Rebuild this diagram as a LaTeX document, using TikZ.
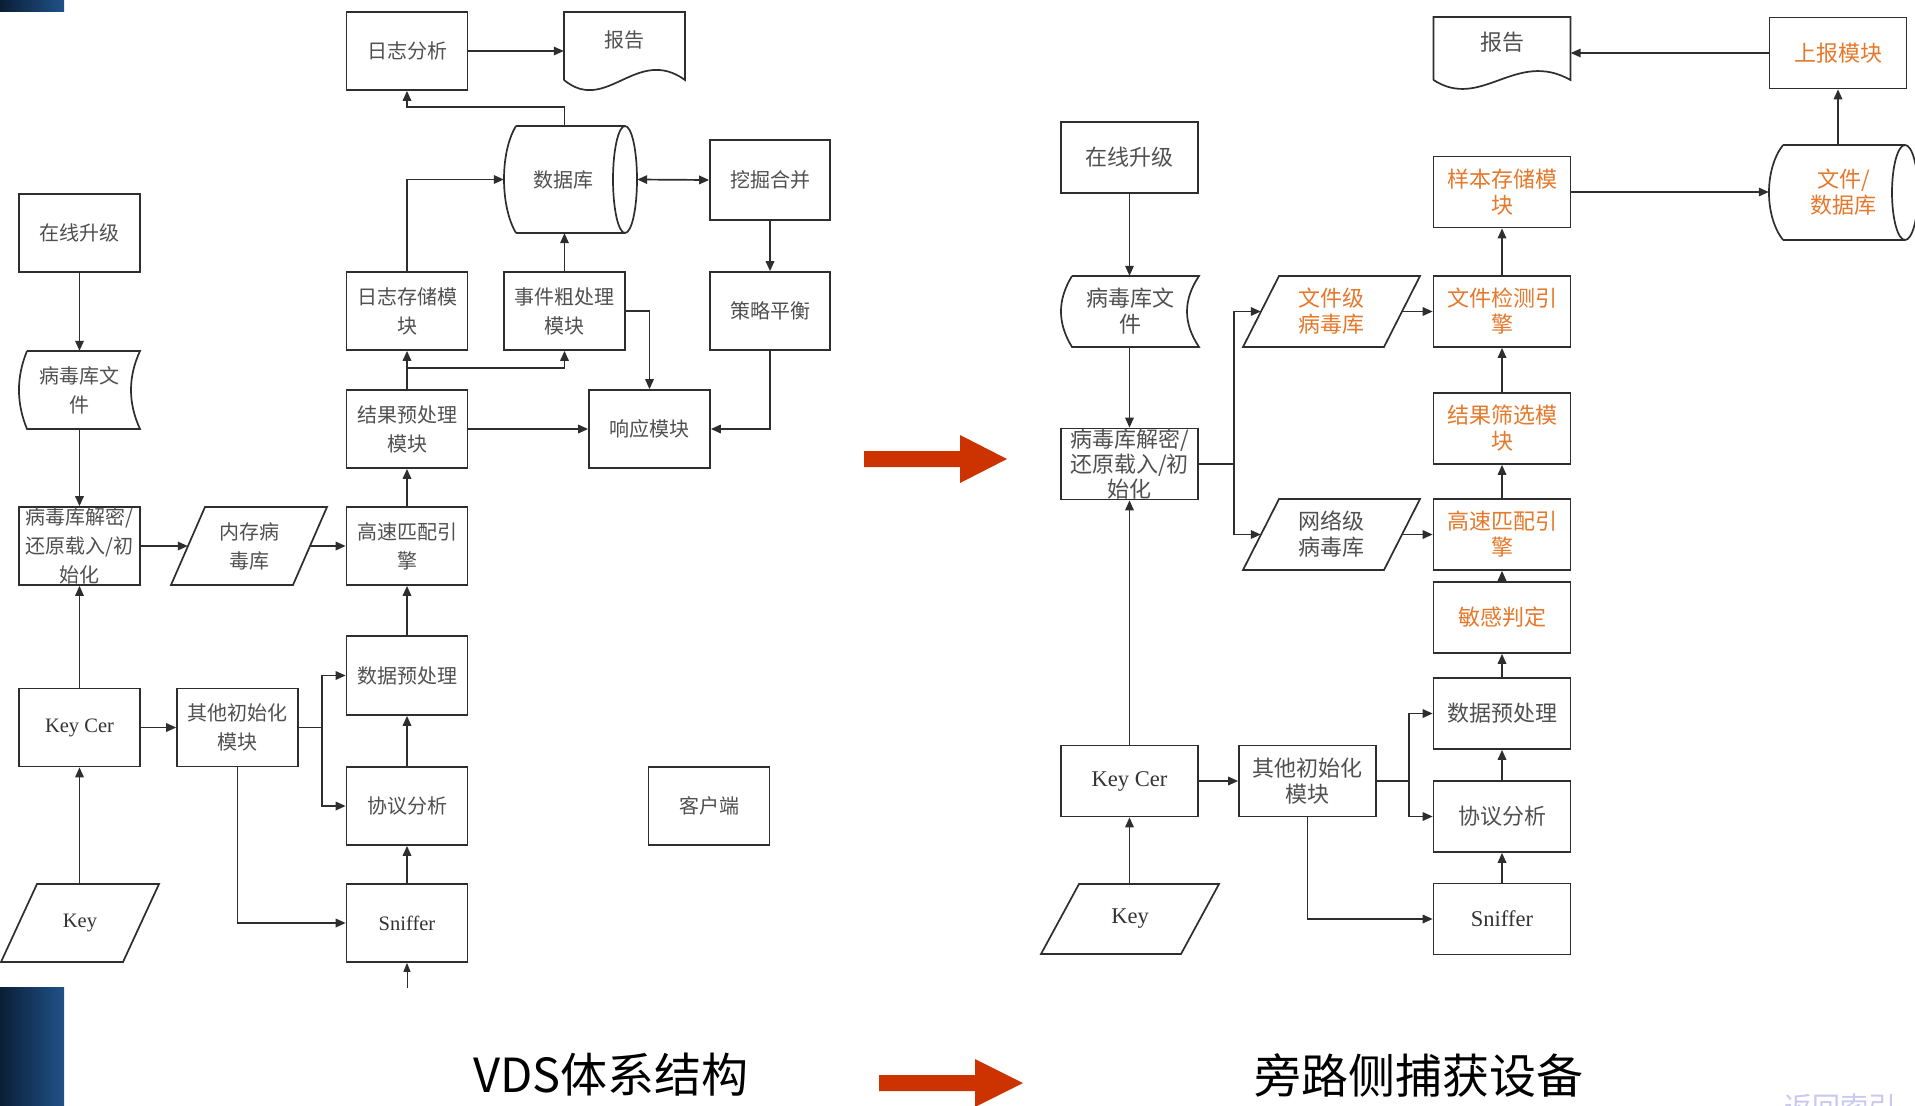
\documentclass[tikz,border=0pt]{standalone}
\usepackage{fontspec}
\setmainfont{Liberation Serif}
\newfontfamily\cjk{Noto Sans CJK SC}
\usetikzlibrary{arrows.meta,calc}
\definecolor{lc}{HTML}{2E2E2E}
\definecolor{tc}{HTML}{505050}
\definecolor{oc}{HTML}{E5782A}
\definecolor{rc}{HTML}{CC3300}
\definecolor{navyA}{HTML}{0B1E36}
\definecolor{navyB}{HTML}{1F5288}
\definecolor{lav}{HTML}{C8C8F0}
\begin{document}
\begin{tikzpicture}[x=1pt,y=-1pt,
  ln/.style={draw=lc,line width=1.7pt},
  arr/.style={draw=lc,line width=1.7pt,-{Triangle[length=10pt,width=8.5pt]}},
  dblarr/.style={draw=lc,line width=1.7pt,{Triangle[length=10pt,width=8.5pt]}-{Triangle[length=10pt,width=8.5pt]}},
  boxL/.style={draw=lc,line width=1.7pt,minimum width=121pt,minimum height=78pt,inner sep=0pt,align=center,text=tc,font=\cjk\fontsize{20}{29}\selectfont},
  ghostL/.style={inner sep=0pt,align=center,text=tc,font=\cjk\fontsize{20}{29}\selectfont},
  boxR/.style={draw=lc,line width=1.7pt,minimum width=137pt,minimum height=71pt,inner sep=0pt,align=center,text=tc,font=\cjk\fontsize{22}{26}\selectfont},
  ghostR/.style={inner sep=0pt,align=center,text=tc,font=\cjk\fontsize{22}{26}\selectfont},
  latL/.style={font=\rmfamily\fontsize{20.5}{24}\selectfont,text=black!80},
  latR/.style={font=\rmfamily\fontsize{22.5}{26}\selectfont,text=black!80},
  ortext/.style={text=oc},
  title/.style={font=\cjk\fontsize{47}{52}\selectfont,text=black,inner sep=0pt}
]
\useasboundingbox (0,0) rectangle (1915,1106);
\clip (0,0) rectangle (1915,1106);
\fill[white] (0,0) rectangle (1915,1106);

% decorative bars
\shade[left color=navyA,right color=navyB] (0,0) rectangle (64,11);
\shade[left color=navyA,right color=navyB] (0,987) rectangle (64,1106);

% ================= LEFT DIAGRAM =================
% special shapes
\draw[ln] (564,80) -- (564,12) -- (685,12) -- (685,80) .. controls (636.6,45) and (606.4,115) .. (564,80);
\draw[ln] (516,126) -- (625,126) (516,233) -- (625,233) (516,126) .. controls (500,152) and (500,206) .. (516,233);
\draw[ln] (625,179.5) ellipse [x radius=12pt,y radius=53.5pt];
\draw[ln] (27,351) -- (140,351) .. controls (128,377) and (128,403) .. (140,429) -- (27,429) .. controls (16.3,403) and (16.3,377) .. (27,351);
\draw[ln] (205,507) -- (327,507) -- (293,585) -- (171,585) -- cycle;
\draw[ln] (37,884) -- (159,884) -- (123,962) -- (1,962) -- cycle;

% nodes
\node[boxL] (L-rz) at (407,51) {日志分析};
\node[ghostL,minimum width=121pt,minimum height=78pt,label={[ghostL,yshift=11pt]center:报告}] (L-bg) at (624.5,51) {};
\node[ghostL,minimum width=133pt,minimum height=107pt,label={[ghostL,xshift=-7pt]center:数据库}] (L-db) at (570.5,179.5) {};
\node[boxL,minimum width=120pt,minimum height=80pt] (L-wj) at (770,180) {挖掘合并};
\node[boxL] (L-zx) at (79.5,233) {在线升级};
\node[boxL] (L-rzcc) at (407,311) {日志存储模\\块};
\node[boxL] (L-sj) at (564.5,311) {事件粗处理\\模块};
\node[boxL,minimum width=120pt] (L-cl) at (770,311) {策略平衡};
\node[ghostL,minimum width=122pt,minimum height=78pt] (L-bdf) at (79.5,390) {病毒库文\\件};
\node[boxL] (L-jg) at (407,429) {结果预处理\\模块};
\node[boxL] (L-xy) at (649.5,429) {响应模块};
\node[boxL] (L-jm) at (79.5,546) {病毒库解密/\\还原载入/初\\始化};
\node[ghostL,minimum width=156pt,minimum height=78pt] (L-nc) at (249,546) {内存病\\毒库};
\node[boxL] (L-gs) at (407,546) {高速匹配引\\擎};
\node[boxL,minimum height=79pt] (L-sjy) at (407,675.5) {数据预处理};
\node[boxL,latL] (L-kc) at (79.5,727.5) {Key Cer};
\node[boxL] (L-qt) at (237.5,727.5) {其他初始化\\模块};
\node[boxL] (L-xx) at (407,806) {协议分析};
\node[boxL] (L-kh) at (709,806) {客户端};
\node[ghostL,latL,minimum width=158pt,minimum height=78pt] (L-key) at (80,923) {Key};
\node[boxL,latL] (L-sn) at (407,923) {Sniffer};
\coordinate (L-in) at (407,988);

% connectors
\draw[arr] (L-rz.east) -- (L-bg.west);
\draw[arr] ([xshift=-6pt]L-db.north) -- ++(0,-19) -| (L-rz.south);
\draw[arr] (L-rzcc.north) |- (L-db.west);
\draw[arr] (L-sj.north) -- (L-sj.north |- L-db.south);
\draw[dblarr] (L-db.east) -- (L-wj.west);
\draw[arr] (L-wj.south) -- (L-cl.north);
\draw[arr] (L-cl.south) |- (L-xy.east);
\draw[arr] (L-sj.east) -| (L-xy.north);
\draw[arr] (L-jg.north) -- (L-rzcc.south);
\draw[arr] ($(L-jg.north)+(0,-21)$) -| (L-sj.south);
\draw[arr] (L-jg.east) -- (L-xy.west);
\draw[arr] (L-gs.north) -- (L-jg.south);
\draw[arr] (L-zx.south) -- (L-bdf.north);
\draw[arr] (L-bdf.south) -- (L-jm.north);
\draw[arr] (L-jm.east) -- ($(L-nc.west)+(17,0)$);
\draw[arr] ($(L-nc.east)+(-17,0)$) -- (L-gs.west);
\draw[arr] (L-sjy.north) -- (L-gs.south);
\draw[arr] (L-xx.north) -- (L-sjy.south);
\draw[arr] (L-sn.north) -- (L-xx.south);
\draw[draw=lc,line width=1pt,-{Triangle[length=9pt,width=7pt]}] (L-in) -- (L-sn.south);
\draw[arr] (L-kc.north) -- (L-jm.south);
\draw[arr] (L-kc.south |- L-key.north) -- (L-kc.south);
\draw[arr] (L-kc.east) -- (L-qt.west);
\draw[ln] (L-qt.east) -- ++(23,0) coordinate (L-br);
\draw[arr] (L-br) |- (L-sjy.west);
\draw[arr] (L-br) |- (L-xx.west);
\draw[arr] (L-qt.south) |- (L-sn.west);

% ================= BIG ARROWS =================
\fill[rc] (864,451) -- (960,451) -- (960,435) -- (1007,459) -- (960,483) -- (960,467) -- (864,467) -- cycle;
\fill[rc] (879,1075) -- (975,1075) -- (975,1059) -- (1023,1083) -- (975,1107) -- (975,1091) -- (879,1091) -- cycle;

% ================= RIGHT DIAGRAM =================
\draw[ln] (1433.5,80) -- (1433.5,17) -- (1570.5,17) -- (1570.5,80) .. controls (1515.7,49) and (1481.5,111) .. (1433.5,80);
\draw[ln] (1783,145) -- (1905,145) (1783,240) -- (1905,240) (1783,145) .. controls (1764.3,169) and (1764.3,216) .. (1783,240);
\draw[ln] (1905,192.5) ellipse [x radius=13pt,y radius=47.5pt];
\draw[ln] (1072,276) -- (1199,276) .. controls (1183,300) and (1183,323) .. (1199,347) -- (1072,347) .. controls (1057.3,323) and (1057.3,300) .. (1072,276);
\draw[ln] (1279,276) -- (1420,276) -- (1384,347) -- (1243,347) -- cycle;
\draw[ln] (1279,499) -- (1420,499) -- (1384,570) -- (1243,570) -- cycle;
\draw[ln] (1079,884) -- (1219,884) -- (1181,954) -- (1041,954) -- cycle;

\node[ghostR,minimum width=137pt,minimum height=71pt,label={[ghostR,yshift=10pt]center:报告}] (R-bg) at (1502,52.5) {};
\node[boxR,ortext] (R-sb) at (1838,53) {上报模块};
\node[boxR] (R-zx) at (1129.5,157.5) {在线升级};
\node[boxR,ortext] (R-yb) at (1502,192) {样本存储模\\块};
\node[ghostR,ortext,minimum width=149pt,minimum height=95pt] (R-wdb) at (1843.5,192.5) {文件/\\数据库};
\node[ghostR,minimum width=138pt,minimum height=71pt] (R-bdf) at (1130,311.5) {病毒库文\\件};
\node[ghostR,ortext,minimum width=177pt,minimum height=71pt] (R-wjj) at (1331.5,311.5) {文件级\\病毒库};
\node[boxR,ortext] (R-jc) at (1502,311.5) {文件检测引\\擎};
\node[boxR,ortext] (R-sx) at (1502,428.5) {结果筛选模\\块};
\node[boxR,font=\cjk\fontsize{22}{25}\selectfont] (R-jm) at (1129.5,464) {病毒库解密/\\还原载入/初\\始化};
\node[ghostR,minimum width=177pt,minimum height=71pt] (R-wl) at (1331.5,534.5) {网络级\\病毒库};
\node[boxR,ortext] (R-gs) at (1502,534.5) {高速匹配引\\擎};
\node[boxR,ortext] (R-mg) at (1502,617.5) {敏感判定};
\node[boxR] (R-sjy) at (1502,713.5) {数据预处理};
\node[boxR,latR] (R-kc) at (1129.5,781) {Key Cer};
\node[boxR] (R-qt) at (1307.5,781) {其他初始化\\模块};
\node[boxR] (R-xx) at (1502,816.5) {协议分析};
\node[ghostR,latR,minimum width=178pt,minimum height=70pt] (R-key) at (1130,919) {Key};
\node[boxR,latR] (R-sn) at (1502,919) {Sniffer};

\draw[arr] (R-sb.west) -- (R-sb.west -| R-bg.east);
\draw[arr] (R-sb.south |- R-wdb.north) -- (R-sb.south);
\draw[arr] (R-yb.east) -- (R-yb.east -| R-wdb.west);
\draw[arr] (R-jc) -- (R-yb);
\draw[arr] (R-sx) -- (R-jc);
\draw[arr] (R-gs) -- (R-sx);
\draw[arr] (R-mg) -- (R-gs);
\draw[arr] (R-sjy) -- (R-mg);
\draw[arr] (R-xx) -- (R-sjy);
\draw[arr] (R-sn) -- (R-xx);
\draw[arr] (R-zx.south) -- (R-zx.south |- R-bdf.north);
\draw[arr] (R-jm.north |- R-bdf.south) -- (R-jm.north);
\draw[arr] (R-kc.north) -- (R-jm.south);
\draw[arr] (R-kc.south |- R-key.north) -- (R-kc.south);
\draw[arr] (R-kc.east) -- (R-qt.west);
\draw[ln] (R-qt.east) -- ++(32,0) coordinate (R-br);
\draw[arr] (R-br) |- (R-sjy.west);
\draw[arr] (R-br) |- (R-xx.west);
\draw[arr] (R-qt.south) |- (R-sn.west);
\draw[ln] (R-jm.east) -- ++(35,0) coordinate (R-br2);
\draw[arr] (R-br2) |- ($(R-wjj.west)+(18,0)$);
\draw[arr] (R-br2) |- ($(R-wl.west)+(18,0)$);
\draw[arr] ($(R-wjj.east)+(-18,0)$) -- (R-jc.west);
\draw[arr] ($(R-wl.east)+(-18,0)$) -- (R-gs.west);

% ================= TITLES =================
\node[title] (t1) at (611,1075) {VDS体系结构};
\node[title] (t2) at (1419,1075) {旁路侧捕获设备};
\node[font=\cjk\fontsize{28}{30}\selectfont,text=lav,inner sep=0pt] (t3) at (1840,1107) {返回索引};
\end{tikzpicture}
\end{document}
